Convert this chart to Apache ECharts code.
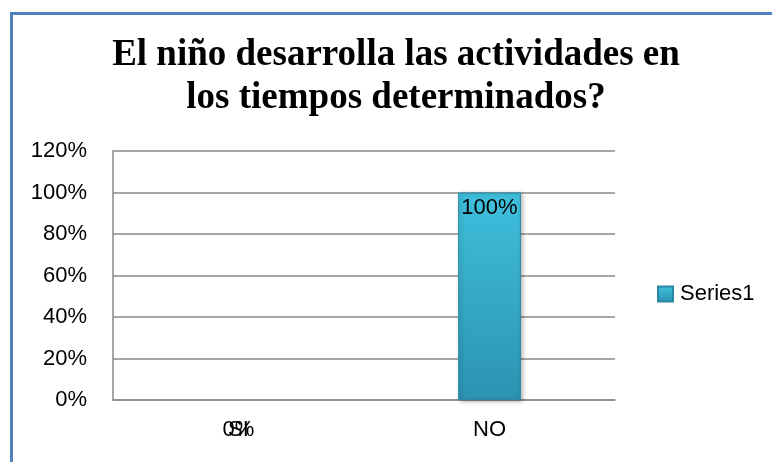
<!DOCTYPE html>
<html>
<head>
<meta charset="utf-8">
<script src="https://cdn.jsdelivr.net/npm/echarts@6/dist/echarts.min.js"></script>
<style>
html,body{margin:0;padding:0;background:#fff;}
#chart{width:772px;height:462px;}
</style>
</head>
<body>
<div id="chart"></div>
<script>
var categories = ['SI', 'NO'];
var seriesName = 'Series1';
var values = [0, 1.0];
var titleText = 'El niño desarrolla las actividades en\nlos tiempos determinados?';

function pct(v) { return Math.round(v * 100) + '%'; }

var chart = echarts.init(document.getElementById('chart'), null, {renderer: 'canvas'});

var barColor = new echarts.graphic.LinearGradient(0, 0, 0, 1, [
  {offset: 0, color: '#3fc0dd'},
  {offset: 1, color: '#2b93b1'}
]);

var dataItems = values.map(function (v) {
  if (v === 0) {
    return {
      value: v,
      itemStyle: {color: 'rgba(0,0,0,0)', borderWidth: 0, shadowBlur: 0, shadowColor: 'rgba(0,0,0,0)'},
      label: {position: 'bottom', distance: 19}
    };
  }
  return {value: v};
});

chart.setOption({
  animation: false,
  backgroundColor: '#ffffff',
  graphic: [{
    type: 'rect',
    shape: {x: 11.5, y: 13.5, width: 800, height: 500},
    style: {fill: 'none', stroke: '#4f81bd', lineWidth: 3},
    silent: true
  }, {
    type: 'text',
    x: 396,
    y: 34,
    silent: true,
    style: {
      text: titleText,
      fill: '#000',
      font: 'bold 37px "Liberation Serif"',
      align: 'center',
      verticalAlign: 'top',
      lineHeight: 43
    }
  }],
  legend: {
    data: [seriesName],
    orient: 'vertical',
    left: 657,
    top: 283,
    padding: 0,
    itemWidth: 15,
    itemHeight: 15,
    itemGap: 7,
    icon: 'rect',
    textStyle: {fontFamily: 'Liberation Sans', fontSize: 22, color: '#000', padding: [0, 0, 0, 2]}
  },
  grid: {left: 113, right: 157, top: 151, bottom: 62, containLabel: false},
  xAxis: {
    type: 'category',
    data: categories,
    axisLine: {show: true, lineStyle: {color: '#8a8a8a', width: 1.5}},
    axisTick: {show: false},
    axisLabel: {fontFamily: 'Liberation Sans', fontSize: 22, color: '#000', margin: 19}
  },
  yAxis: {
    type: 'value',
    min: 0,
    max: 1.2,
    interval: 0.2,
    axisLine: {show: true, lineStyle: {color: '#8a8a8a', width: 1.5}},
    axisTick: {show: false},
    splitLine: {show: true, lineStyle: {color: '#8a8a8a', width: 1.5}},
    axisLabel: {fontFamily: 'Liberation Sans', fontSize: 22, color: '#000', margin: 26, formatter: pct}
  },
  series: [{
    name: seriesName,
    type: 'bar',
    data: dataItems,
    barWidth: '25%',
    itemStyle: {
      color: barColor,
      borderColor: '#2a88a4',
      borderWidth: 1,
      shadowColor: 'rgba(0,0,0,0.3)',
      shadowBlur: 4,
      shadowOffsetX: 2,
      shadowOffsetY: 1
    },
    label: {
      show: true,
      position: 'insideTop',
      distance: 4,
      fontFamily: 'Liberation Sans',
      fontSize: 22,
      color: '#000',
      formatter: function (p) { return pct(p.value); }
    }
  }]
});
</script>
</body>
</html>
